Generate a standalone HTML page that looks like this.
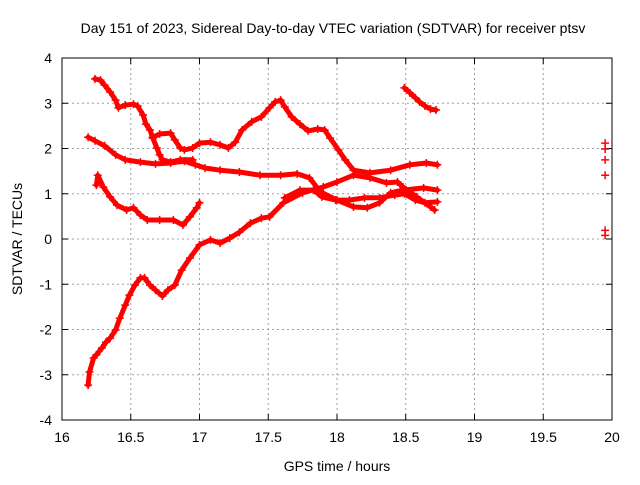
<!DOCTYPE html>
<html><head><meta charset="utf-8"><style>
body{margin:0;background:#fff}
svg text{font-family:"Liberation Sans",sans-serif;font-size:14px;fill:#000}
</style></head><body>
<svg id="chart" width="640" height="480" viewBox="0 0 640 480" xmlns="http://www.w3.org/2000/svg">
<rect width="640" height="480" fill="#fff"/>
<g id="grid"></g>
<g id="axes"></g>
<g id="series"></g>
<text x="333" y="33" text-anchor="middle">Day 151 of 2023, Sidereal Day-to-day VTEC variation (SDTVAR) for receiver ptsv</text>
<text x="337" y="471" text-anchor="middle">GPS time / hours</text>
<text x="22" y="239" text-anchor="middle" transform="rotate(-90 22 239)">SDTVAR / TECUs</text>
</svg>
<script>
const xTicks=[16,16.5,17,17.5,18,18.5,19,19.5,20];
const yTicks=[-4,-3,-2,-1,0,1,2,3,4];
const s1T=[16.24,16.28,16.31,16.35,16.39,16.41,16.46,16.52,16.55,16.59,16.61,16.64,16.66,16.69,16.71,16.73,16.79,16.86,16.95];
const s1V=[3.54,3.51,3.40,3.25,3.07,2.90,2.96,2.98,2.94,2.74,2.54,2.41,2.23,2.01,1.86,1.75,1.70,1.75,1.75];
const s2T=[16.66,16.71,16.79,16.82,16.86,16.89,16.95,17.00,17.08,17.15,17.21,17.26,17.31,17.38,17.45,17.51,17.55,17.59,17.62,17.67,17.73,17.79,17.86,17.91,17.95,18.01,18.06,18.12,18.24,18.39,18.53,18.65,18.73];
const s2V=[2.25,2.32,2.34,2.19,2.01,1.97,2.01,2.12,2.14,2.08,2.01,2.14,2.41,2.59,2.70,2.90,3.03,3.07,2.92,2.70,2.54,2.39,2.43,2.41,2.23,1.97,1.75,1.52,1.46,1.52,1.64,1.68,1.64];
const s3T=[16.19,16.24,16.31,16.39,16.46,16.57,16.68,16.79,16.89,16.97,17.04,17.15,17.29,17.44,17.59,17.71,17.80,17.88,18.00,18.12,18.22,18.31,18.39,18.48,18.63,18.73];
const s3V=[2.25,2.17,2.06,1.86,1.75,1.70,1.66,1.68,1.72,1.64,1.57,1.52,1.48,1.41,1.41,1.44,1.35,1.04,0.86,0.71,0.69,0.80,1.02,1.08,1.13,1.08];
const s4T=[16.19,16.20,16.23,16.25,16.29,16.32,16.35,16.39,16.42,16.46,16.49,16.53,16.57,16.60,16.64,16.68,16.73,16.77,16.82,16.87,16.93,17.00,17.08,17.15,17.22,17.29,17.37,17.45,17.51,17.61,17.75,17.90,18.00,18.12,18.24,18.36,18.44,18.48,18.58,18.68,18.71];
const s4V=[-3.23,-2.94,-2.63,-2.56,-2.41,-2.28,-2.19,-2.01,-1.75,-1.46,-1.24,-1.02,-0.86,-0.86,-1.02,-1.13,-1.26,-1.13,-1.02,-0.69,-0.42,-0.13,-0.02,-0.09,0.02,0.15,0.35,0.46,0.49,0.80,1.02,1.15,1.26,1.41,1.35,1.24,1.26,1.15,0.93,0.71,0.64];
const s5T=[17.62,17.73,17.83,17.89,17.99,18.09,18.20,18.31,18.42,18.49,18.57,18.64,18.73];
const s5V=[0.91,1.08,1.08,0.93,0.86,0.86,0.91,0.91,0.97,1.00,0.86,0.80,0.82];
const s6T=[16.25,16.26,16.30,16.35,16.40,16.47,16.52,16.57,16.62,16.71,16.81,16.88,16.93,16.98,17.00];
const s6V=[1.19,1.41,1.15,0.93,0.75,0.64,0.69,0.53,0.42,0.42,0.42,0.31,0.49,0.69,0.80];
const s7T=[18.49,18.53,18.57,18.60,18.64,18.68,18.72];
const s7V=[3.34,3.23,3.12,3.03,2.94,2.87,2.85];
const s8T=[19.95,19.95,19.95,19.95,19.95,19.95];
const s8V=[2.12,1.99,1.75,1.41,0.19,0.08];

const X0=62,X1=612,Y0=420,Y1=58;
const xs=t=>X0+(t-16)/4*(X1-X0);
const ys=v=>Y0-(v+4)/8*(Y0-Y1);
const NS="http://www.w3.org/2000/svg";
function mk(tag,parent,attrs){const e=document.createElementNS(NS,tag);for(const k in attrs)e.setAttribute(k,attrs[k]);parent.appendChild(e);return e;}
const grid=document.getElementById('grid'),axes=document.getElementById('axes'),ser=document.getElementById('series');
xTicks.forEach(t=>{
  const x=xs(t);
  if(t>16&&t<20){const g=mk('line',grid,{x1:x,x2:x,y1:Y1,y2:Y0,stroke:'#a0a0a0','stroke-dasharray':'2,3'});
  
  }
  mk('line',axes,{x1:x,x2:x,y1:Y0,y2:Y0-6,stroke:'#000'});
  mk('line',axes,{x1:x,x2:x,y1:Y1,y2:Y1+6,stroke:'#000'});
  const l=mk('text',axes,{x:x,y:Y0+22,'text-anchor':'middle'});l.textContent=String(t);
  
  
});
yTicks.forEach(v=>{
  const y=ys(v);
  if(v>-4&&v<4){const g=mk('line',grid,{x1:X0,x2:X1,y1:y,y2:y,stroke:'#a0a0a0','stroke-dasharray':'2,3'});
  
  }
  mk('line',axes,{x1:X0,x2:X0+6,y1:y,y2:y,stroke:'#000'});
  mk('line',axes,{x1:X1,x2:X1-6,y1:y,y2:y,stroke:'#000'});
  const l=mk('text',axes,{x:X0-10,y:y+5,'text-anchor':'end'});l.textContent=String(v);
  
  
});
const fr=mk('rect',axes,{x:X0,y:Y1,width:X1-X0,height:Y0-Y1,fill:'none',stroke:'#000'});


const all=[[s1T,s1V],[s2T,s2V],[s3T,s3V],[s4T,s4V],[s5T,s5V],[s6T,s6V],[s7T,s7V],[s8T,s8V]];
all.forEach(([T,V],i)=>{
  const g=mk('g',ser,{});
  
  
  if(i<7){const pts=T.map((t,j)=>xs(t).toFixed(1)+','+ys(V[j]).toFixed(1)).join(' ');
    mk('polyline',g,{points:pts,fill:'none',stroke:'#f00','stroke-width':5,'stroke-linejoin':'round','stroke-linecap':'round'});}
  T.forEach((t,j)=>{
    const x=xs(t),y=ys(V[j]);
    const p=mk('path',g,{d:`M${x-4},${y}h8M${x},${y-4}v8`,stroke:'#f00','stroke-width':1.5});
    
    
  });
});
</script>
</body></html>
